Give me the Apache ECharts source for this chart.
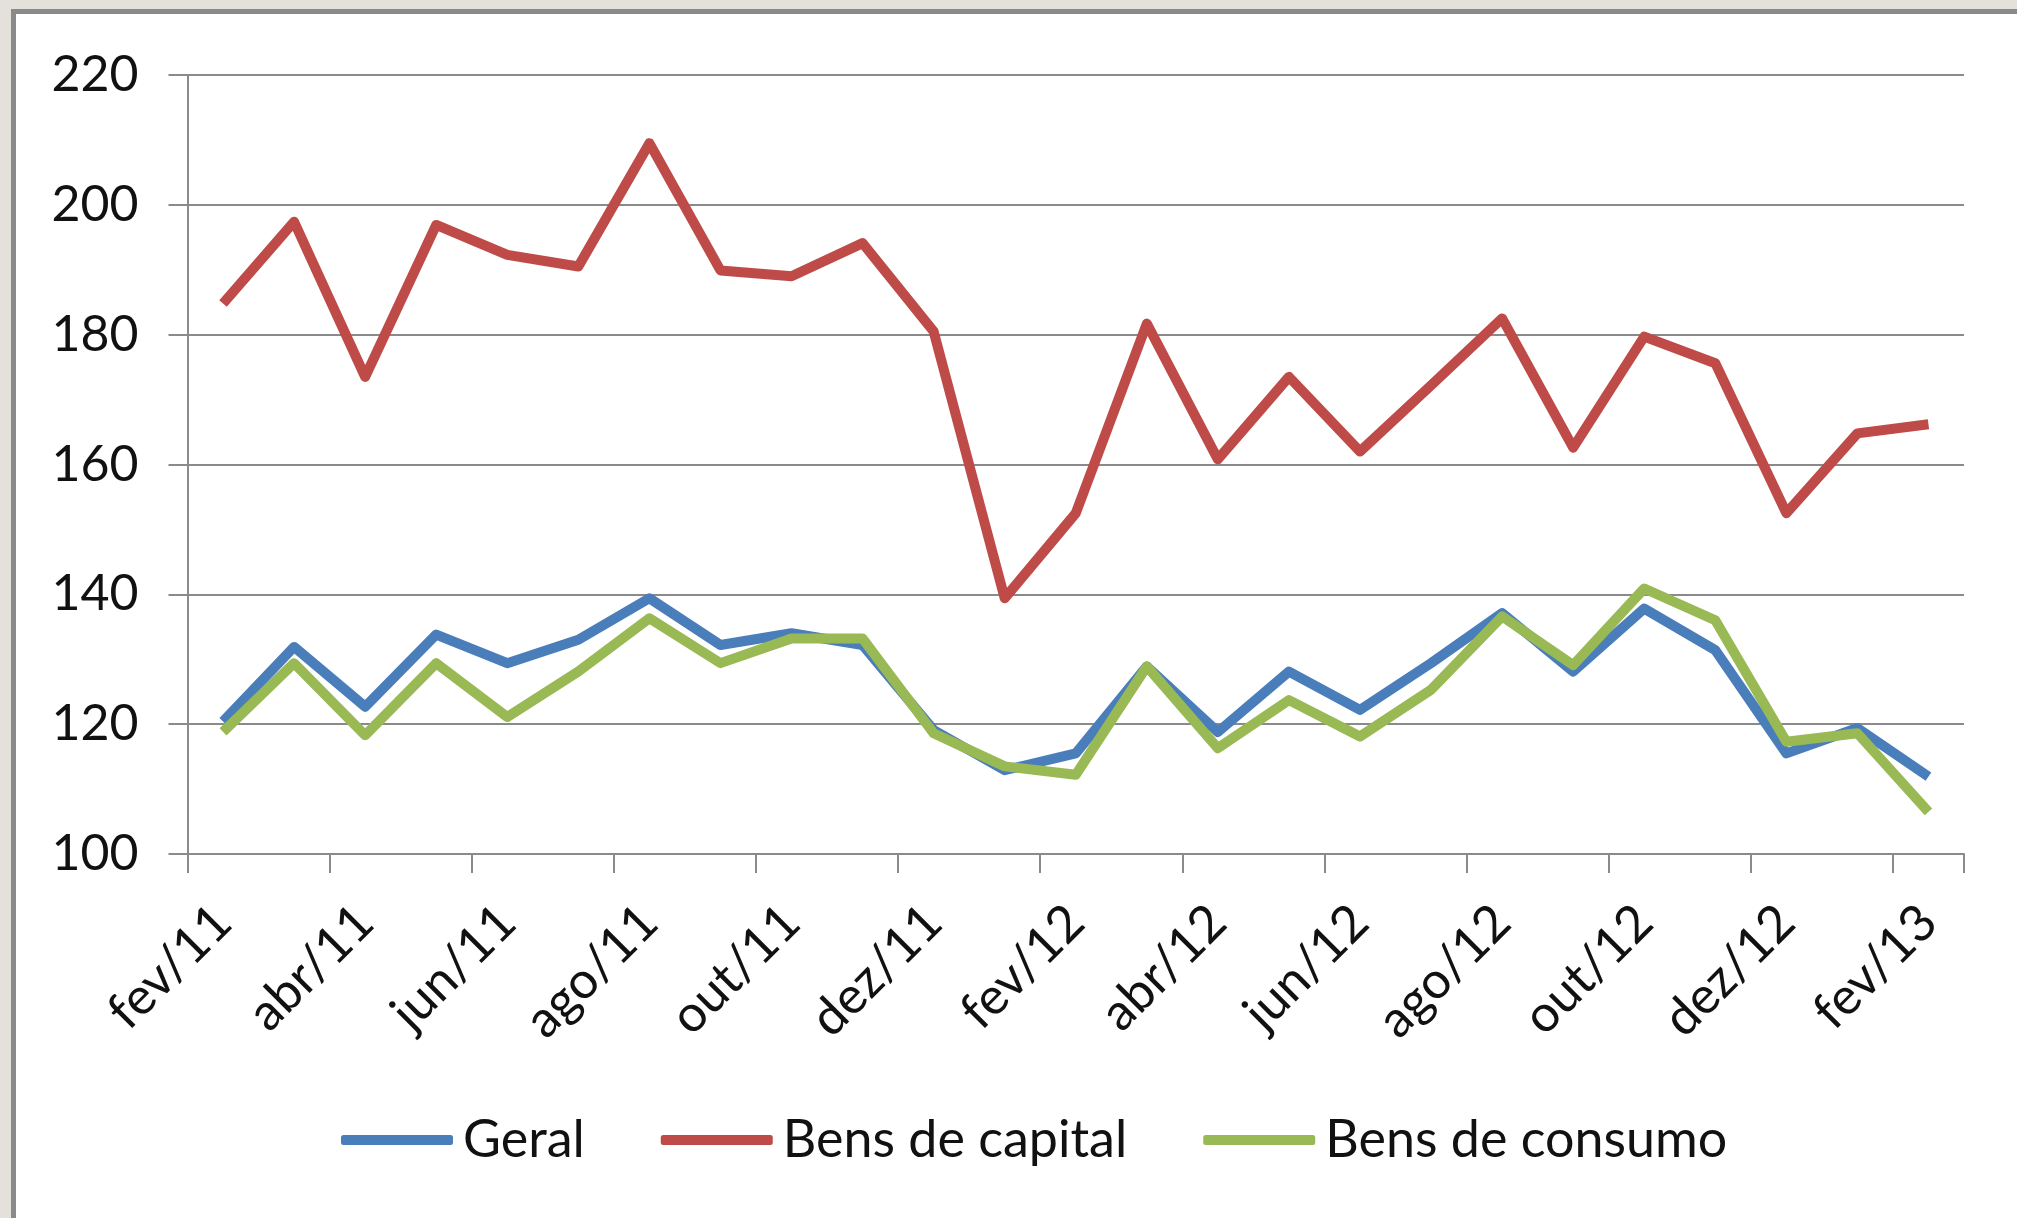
<!DOCTYPE html>
<html>
<head>
<meta charset="utf-8">
<script src="https://cdn.jsdelivr.net/npm/echarts@6/dist/echarts.min.js"></script>
<style>
  html, body { margin: 0; padding: 0; width: 2017px; height: 1218px; overflow: hidden; background: #e4e1da; }
  #panel { position: absolute; left: 11px; top: 9px; width: 2100px; height: 1300px; background: #ffffff; border-left: 5px solid #8a8a8a; border-top: 5px solid #8a8a8a; }
  #chart { position: absolute; left: 0; top: 0; width: 2017px; height: 1218px; }
</style>
</head>
<body>
<div id="panel"></div>
<div id="chart"></div>
<script>
const categories = ['fev/11','mar/11','abr/11','mai/11','jun/11','jul/11','ago/11','set/11','out/11','nov/11','dez/11','jan/12','fev/12','mar/12','abr/12','mai/12','jun/12','jul/12','ago/12','set/12','out/12','nov/12','dez/12','jan/13','fev/13'];
const geral = [120.4,131.9,122.7,133.8,129.4,133.0,139.4,132.2,134.0,132.2,119.1,112.9,115.5,128.9,118.8,128.1,122.2,129.4,137.1,128.1,137.8,131.4,115.5,119.4,111.9];
const bensCapital = [184.8,197.4,173.5,196.9,192.3,190.5,209.5,189.9,189.0,194.1,180.5,139.4,152.5,181.7,160.8,173.5,162.0,172.2,182.5,162.6,179.7,175.6,152.5,164.8,166.2];
const bensConsumo = [118.8,129.4,118.3,129.4,121.1,128.1,136.3,129.4,133.2,133.2,118.6,113.5,112.2,128.9,116.3,123.7,118.1,125.3,136.6,129.1,140.9,136.0,117.3,118.6,106.5];
const seriesNames = ['Geral','Bens de capital','Bens de consumo'];
const seriesColors = ['#4a7ebb','#be4b48','#98b954'];

const FONT = 'Lato';
const chart = echarts.init(document.getElementById('chart'), null, {renderer: 'canvas'});
const data = [geral, bensCapital, bensConsumo];
chart.setOption({
  backgroundColor: 'transparent',
  animation: false,
  textStyle: { fontFamily: FONT },
  grid: { left: 187.5, right: 53, top: 75, bottom: 364, containLabel: false },
  legend: {
    left: 341, top: 1114, padding: 0,
    icon: 'roundRect', itemWidth: 112, itemHeight: 10, itemGap: 76,
    textStyle: { fontFamily: FONT, fontSize: 52, color: '#111', padding: [0, 0, 0, 5] },
    data: seriesNames
  },
  xAxis: {
    type: 'category',
    data: categories,
    boundaryGap: true,
    axisLine: { show: true, lineStyle: { color: '#8a8a8a', width: 2 } },
    axisTick: { show: true, interval: 1, length: 19, lineStyle: { color: '#8a8a8a', width: 2 } },
    axisLabel: { interval: 1, rotate: 45, margin: 60, fontFamily: FONT, fontSize: 51, color: '#111' },
    splitLine: { show: false }
  },
  yAxis: {
    type: 'value',
    min: 100, max: 220, interval: 20,
    axisLine: { show: true, lineStyle: { color: '#8a8a8a', width: 2 } },
    axisTick: { show: true, length: 19, lineStyle: { color: '#8a8a8a', width: 2 } },
    axisLabel: { margin: 49, fontFamily: FONT, fontSize: 50, color: '#111' },
    splitLine: { show: true, lineStyle: { color: '#8a8a8a', width: 2 } }
  },
  series: seriesNames.map((n, i) => ({
    name: n,
    type: 'line',
    data: data[i],
    symbol: 'none',
    smooth: false,
    color: seriesColors[i],
    lineStyle: { width: 10, color: seriesColors[i], join: 'round' }
  }))
});
</script>
</body>
</html>
